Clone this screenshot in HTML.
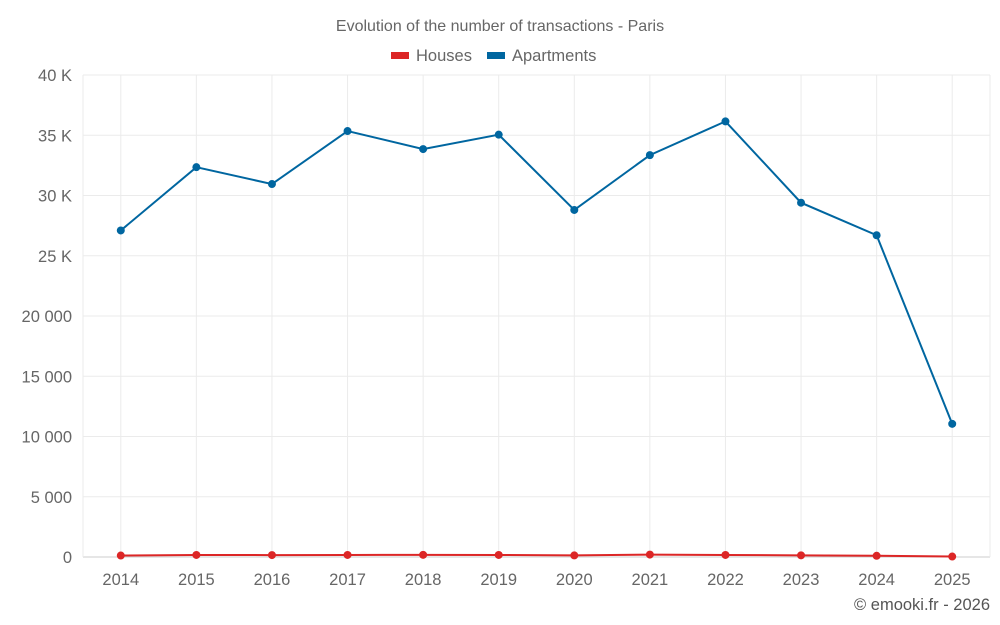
<!DOCTYPE html>
<html><head><meta charset="utf-8"><style>
body{margin:0;background:#fff;font-family:"Liberation Sans",sans-serif}
svg{display:block}
</style></head><body>
<svg width="1000" height="625" id="chart">
<text x="500" y="31" text-anchor="middle" font-size="16" fill="#666">Evolution of the number of transactions - Paris</text>
<g>
<rect x="391" y="52" width="18" height="7" fill="#dc2626"/>
<text x="416" y="61" font-size="16.5" fill="#666">Houses</text>
<rect x="487" y="52" width="18" height="7" fill="#0066a0"/>
<text x="512" y="61" font-size="16.5" fill="#666">Apartments</text>
</g>
<g id="grid"></g><g id="axes"></g><g id="series"></g>
<text x="990" y="610" text-anchor="end" font-size="16.5" fill="#555">© emooki.fr - 2026</text>
</svg>
<script>
const categories=["2014","2015","2016","2017","2018","2019","2020","2021","2022","2023","2024","2025"];
const houses=[120,170,160,170,180,170,130,200,170,140,100,40];
const apartments=[27100,32350,30950,35350,33850,35050,28800,33350,36150,29400,26700,11050];
const yTicks=[0,5000,10000,15000,20000,25000,30000,35000,40000];
const yTickLabels=["0","5 000","10 000","15 000","20 000","25 K","30 K","35 K","40 K"];
const NS="http://www.w3.org/2000/svg";
const L=83,R=990,T=75,B=557,yMax=40000;
const bw=(R-L)/categories.length;
const x=i=>L+bw*(i+0.5);
const y=v=>B-(v/yMax)*(B-T);
function mk(tag,attrs,parent,text){const e=document.createElementNS(NS,tag);for(const k in attrs)e.setAttribute(k,attrs[k]);if(text!=null)e.textContent=text;document.getElementById(parent).appendChild(e);return e;}
yTicks.forEach((t,i)=>{
 const g=mk("line",{x1:L,x2:R,y1:y(t),y2:y(t),stroke:i==0?"#ccc":"#ebebeb"},"grid");
 
 
 const l=mk("text",{x:72,y:y(t)+6,"text-anchor":"end","font-size":16.5,fill:"#666"},"axes",yTickLabels[i]);
 
 
});
const edges=[L,R];
edges.forEach(ex=>{
 const g=mk("line",{x1:ex,x2:ex,y1:T,y2:B,stroke:"#ebebeb"},"grid");
 
 
});
categories.forEach((c,i)=>{
 const g=mk("line",{x1:x(i),x2:x(i),y1:T,y2:B,stroke:"#ebebeb"},"grid");
 
 
 const l=mk("text",{x:x(i),y:585,"text-anchor":"middle","font-size":16.5,fill:"#666"},"axes",c);
 
 
});
function series(vals,color,name){
 const p=mk("polyline",{points:vals.map((v,i)=>x(i)+","+y(v)).join(" "),fill:"none",stroke:color,"stroke-width":2},"series");
 
 
 vals.forEach((v,i)=>{
  const c=mk("circle",{cx:x(i),cy:y(v),r:4,fill:color},"series");
  
  
 });
}
series(apartments,"#0066a0","apartments");
series(houses,"#dc2626","houses");
</script>
</body></html>
